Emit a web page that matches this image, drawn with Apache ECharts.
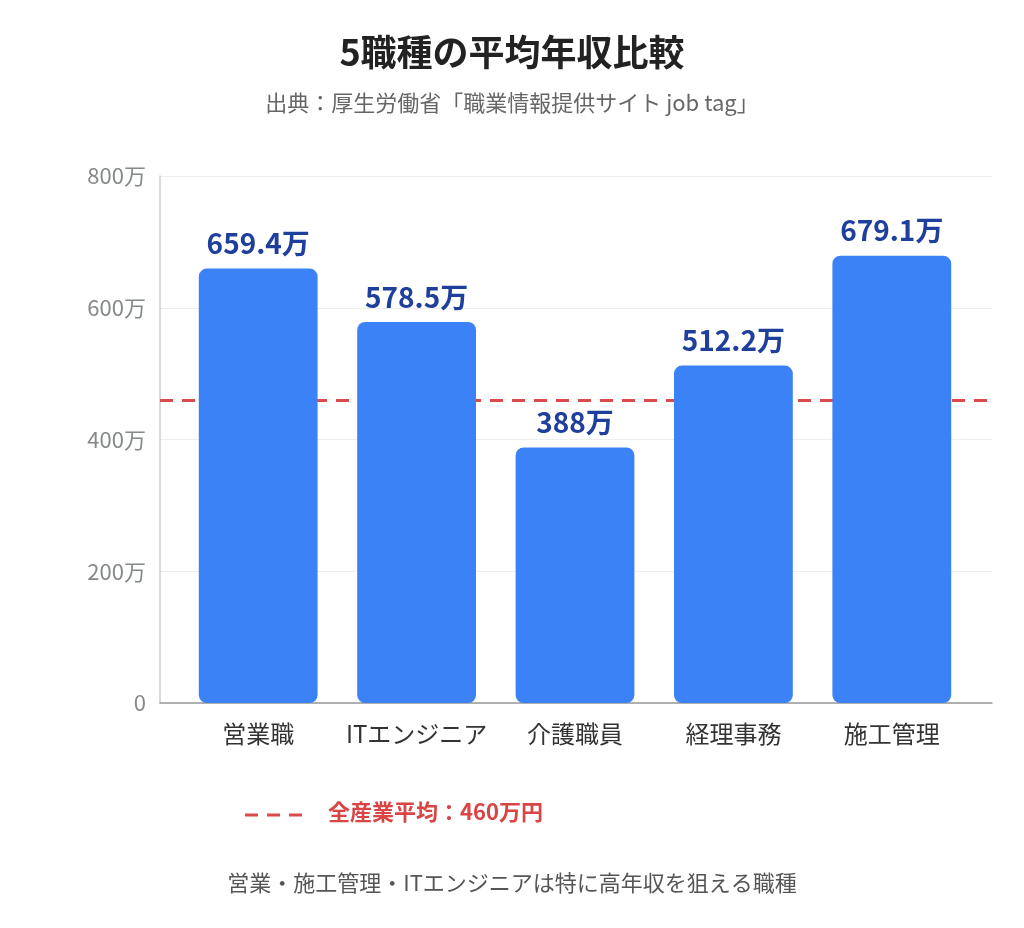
<!DOCTYPE html>
<html>
<head>
<meta charset="utf-8">
<script src="https://cdn.jsdelivr.net/npm/echarts@6/dist/echarts.min.js"></script>
<style>
  html, body { margin: 0; padding: 0; background: #fff; }
  #chart { width: 1024px; height: 928px; }
</style>
</head>
<body>
<div id="chart"></div>
<script>
// 職種と平均年収（万円）
const categories = ['営業職', 'ITエンジニア', '介護職員', '経理事務', '施工管理'];
const salaries = [659.4, 578.5, 388, 512.2, 679.1];
const industryAvg = 460;
const yTicks = { min: 0, max: 800, interval: 200 };

const FONT = '"Noto Sans CJK JP", "Noto Sans", sans-serif';

const chart = echarts.init(document.getElementById('chart'));

const option = {
  backgroundColor: '#fff',
  textStyle: { fontFamily: FONT },
  title: [
    {
      text: '5職種の平均年収比較',
      left: 'center',
      top: 29,
      textStyle: { fontSize: 36, fontWeight: 'bold', color: '#222', fontFamily: FONT }
    },
    {
      text: '出典：厚生労働省「職業情報提供サイト job tag」',
      left: 'center',
      top: 87,
      textStyle: { fontSize: 22, fontWeight: 'normal', color: '#666', fontFamily: FONT }
    },
    {
      text: '営業・施工管理・ITエンジニアは特に高年収を狙える職種',
      left: 'center',
      top: 867,
      textStyle: { fontSize: 22, fontWeight: 'normal', color: '#555', fontFamily: FONT }
    }
  ],
  // grid0: 軸線・目盛り用（幅広）、grid1: 棒グラフ用
  grid: [
    { left: 160, right: 32, top: 176, bottom: 225 },
    { left: 179, right: 53, top: 176, bottom: 225 }
  ],
  xAxis: [
    {
      gridIndex: 0,
      type: 'value',
      min: 0,
      max: 1,
      axisLine: { show: true, lineStyle: { color: '#999', width: 1.5 } },
      axisTick: { show: false },
      axisLabel: { show: false },
      splitLine: { show: false }
    },
    {
      gridIndex: 1,
      type: 'category',
      data: categories,
      axisLine: { show: false },
      axisTick: { show: false },
      axisLabel: { interval: 0, fontSize: 24, color: '#333', margin: 19, fontFamily: FONT }
    }
  ],
  yAxis: [
    {
      gridIndex: 0,
      type: 'value',
      min: yTicks.min,
      max: yTicks.max,
      interval: yTicks.interval,
      axisLine: { show: true, lineStyle: { color: '#ccc', width: 1.5 } },
      axisTick: { show: false },
      axisLabel: {
        fontSize: 22,
        color: '#848a86',
        margin: 14,
        fontFamily: FONT,
        formatter: v => (v === 0 ? '0' : v + '万')
      },
      splitLine: { lineStyle: { color: '#eee', width: 1 } }
    },
    {
      gridIndex: 1,
      type: 'value',
      min: yTicks.min,
      max: yTicks.max,
      interval: yTicks.interval,
      show: false
    }
  ],
  series: [
    {
      type: 'line',
      xAxisIndex: 0,
      yAxisIndex: 0,
      data: [],
      silent: true,
      z: 1,
      markLine: {
        symbol: 'none',
        silent: true,
        z: 1,
        label: { show: false },
        lineStyle: { color: '#dc4b4b', width: 3, type: [13, 9] },
        data: [{ yAxis: industryAvg }]
      }
    },
    {
      type: 'bar',
      xAxisIndex: 1,
      yAxisIndex: 1,
      data: salaries,
      barCategoryGap: '25%',
      itemStyle: { color: '#3b82f6', borderRadius: 8 },
      label: {
        show: true,
        position: 'top',
        distance: 11,
        fontSize: 28,
        fontWeight: 'bold',
        color: '#1e3f9c',
        fontFamily: FONT,
        formatter: p => p.value + '万'
      },
      z: 5
    }
  ],
  graphic: [
    {
      type: 'line',
      shape: { x1: 245, y1: 815, x2: 302, y2: 815 },
      style: { stroke: '#dc4b4b', lineWidth: 3, lineDash: [13, 9] }
    },
    {
      type: 'text',
      left: 328,
      top: 801,
      style: {
        text: '全産業平均：460万円',
        fill: '#d94545',
        font: 'bold 22px ' + FONT
      }
    }
  ]
};

chart.setOption(option);
</script>
</body>
</html>
